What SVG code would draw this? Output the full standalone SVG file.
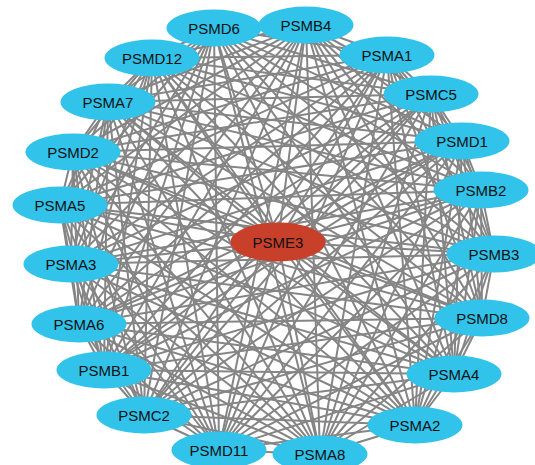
<svg xmlns="http://www.w3.org/2000/svg" width="535" height="465" viewBox="0 0 535 465">
<style>
.e line{stroke:#858585;stroke-width:2;}
.n ellipse{fill:#31C3EA;}
.c ellipse{fill:#C8402A;}
text{font-family:"Liberation Sans",Arial,sans-serif;font-size:15px;fill:#111;text-anchor:middle;dominant-baseline:central;}
</style>
<rect width="535" height="465" fill="#fff"/>
<g id="edges" class="e">
<line x1="214" y1="28" x2="306" y2="25"/><line x1="214" y1="28" x2="387" y2="55"/><line x1="214" y1="28" x2="431" y2="94"/><line x1="214" y1="28" x2="462" y2="141"/><line x1="214" y1="28" x2="481" y2="190"/><line x1="214" y1="28" x2="494" y2="254"/><line x1="214" y1="28" x2="482" y2="318"/><line x1="214" y1="28" x2="454" y2="374"/><line x1="214" y1="28" x2="415" y2="425"/><line x1="214" y1="28" x2="320" y2="454"/><line x1="214" y1="28" x2="219" y2="450"/><line x1="214" y1="28" x2="144" y2="415"/><line x1="214" y1="28" x2="104" y2="370"/><line x1="214" y1="28" x2="79" y2="324"/><line x1="214" y1="28" x2="71" y2="264"/><line x1="214" y1="28" x2="60" y2="205"/><line x1="214" y1="28" x2="73" y2="152"/><line x1="214" y1="28" x2="108" y2="102"/><line x1="214" y1="28" x2="152" y2="58"/><line x1="214" y1="28" x2="278" y2="242"/>
<line x1="306" y1="25" x2="387" y2="55"/><line x1="306" y1="25" x2="431" y2="94"/><line x1="306" y1="25" x2="462" y2="141"/><line x1="306" y1="25" x2="481" y2="190"/><line x1="306" y1="25" x2="494" y2="254"/><line x1="306" y1="25" x2="482" y2="318"/><line x1="306" y1="25" x2="454" y2="374"/><line x1="306" y1="25" x2="415" y2="425"/><line x1="306" y1="25" x2="320" y2="454"/><line x1="306" y1="25" x2="219" y2="450"/><line x1="306" y1="25" x2="144" y2="415"/><line x1="306" y1="25" x2="104" y2="370"/><line x1="306" y1="25" x2="79" y2="324"/><line x1="306" y1="25" x2="71" y2="264"/><line x1="306" y1="25" x2="60" y2="205"/><line x1="306" y1="25" x2="73" y2="152"/><line x1="306" y1="25" x2="108" y2="102"/><line x1="306" y1="25" x2="152" y2="58"/><line x1="306" y1="25" x2="278" y2="242"/>
<line x1="387" y1="55" x2="431" y2="94"/><line x1="387" y1="55" x2="462" y2="141"/><line x1="387" y1="55" x2="481" y2="190"/><line x1="387" y1="55" x2="494" y2="254"/><line x1="387" y1="55" x2="482" y2="318"/><line x1="387" y1="55" x2="454" y2="374"/><line x1="387" y1="55" x2="415" y2="425"/><line x1="387" y1="55" x2="320" y2="454"/><line x1="387" y1="55" x2="219" y2="450"/><line x1="387" y1="55" x2="144" y2="415"/><line x1="387" y1="55" x2="104" y2="370"/><line x1="387" y1="55" x2="79" y2="324"/><line x1="387" y1="55" x2="71" y2="264"/><line x1="387" y1="55" x2="60" y2="205"/><line x1="387" y1="55" x2="73" y2="152"/><line x1="387" y1="55" x2="108" y2="102"/><line x1="387" y1="55" x2="152" y2="58"/><line x1="387" y1="55" x2="278" y2="242"/>
<line x1="431" y1="94" x2="462" y2="141"/><line x1="431" y1="94" x2="481" y2="190"/><line x1="431" y1="94" x2="494" y2="254"/><line x1="431" y1="94" x2="482" y2="318"/><line x1="431" y1="94" x2="454" y2="374"/><line x1="431" y1="94" x2="415" y2="425"/><line x1="431" y1="94" x2="320" y2="454"/><line x1="431" y1="94" x2="219" y2="450"/><line x1="431" y1="94" x2="144" y2="415"/><line x1="431" y1="94" x2="104" y2="370"/><line x1="431" y1="94" x2="79" y2="324"/><line x1="431" y1="94" x2="71" y2="264"/><line x1="431" y1="94" x2="60" y2="205"/><line x1="431" y1="94" x2="73" y2="152"/><line x1="431" y1="94" x2="108" y2="102"/><line x1="431" y1="94" x2="152" y2="58"/><line x1="431" y1="94" x2="278" y2="242"/>
<line x1="462" y1="141" x2="481" y2="190"/><line x1="462" y1="141" x2="494" y2="254"/><line x1="462" y1="141" x2="482" y2="318"/><line x1="462" y1="141" x2="454" y2="374"/><line x1="462" y1="141" x2="415" y2="425"/><line x1="462" y1="141" x2="320" y2="454"/><line x1="462" y1="141" x2="219" y2="450"/><line x1="462" y1="141" x2="144" y2="415"/><line x1="462" y1="141" x2="104" y2="370"/><line x1="462" y1="141" x2="79" y2="324"/><line x1="462" y1="141" x2="71" y2="264"/><line x1="462" y1="141" x2="60" y2="205"/><line x1="462" y1="141" x2="73" y2="152"/><line x1="462" y1="141" x2="108" y2="102"/><line x1="462" y1="141" x2="152" y2="58"/><line x1="462" y1="141" x2="278" y2="242"/>
<line x1="481" y1="190" x2="494" y2="254"/><line x1="481" y1="190" x2="482" y2="318"/><line x1="481" y1="190" x2="454" y2="374"/><line x1="481" y1="190" x2="415" y2="425"/><line x1="481" y1="190" x2="320" y2="454"/><line x1="481" y1="190" x2="219" y2="450"/><line x1="481" y1="190" x2="144" y2="415"/><line x1="481" y1="190" x2="104" y2="370"/><line x1="481" y1="190" x2="79" y2="324"/><line x1="481" y1="190" x2="71" y2="264"/><line x1="481" y1="190" x2="60" y2="205"/><line x1="481" y1="190" x2="73" y2="152"/><line x1="481" y1="190" x2="108" y2="102"/><line x1="481" y1="190" x2="152" y2="58"/><line x1="481" y1="190" x2="278" y2="242"/>
<line x1="494" y1="254" x2="482" y2="318"/><line x1="494" y1="254" x2="454" y2="374"/><line x1="494" y1="254" x2="415" y2="425"/><line x1="494" y1="254" x2="320" y2="454"/><line x1="494" y1="254" x2="219" y2="450"/><line x1="494" y1="254" x2="144" y2="415"/><line x1="494" y1="254" x2="104" y2="370"/><line x1="494" y1="254" x2="79" y2="324"/><line x1="494" y1="254" x2="71" y2="264"/><line x1="494" y1="254" x2="60" y2="205"/><line x1="494" y1="254" x2="73" y2="152"/><line x1="494" y1="254" x2="108" y2="102"/><line x1="494" y1="254" x2="152" y2="58"/><line x1="494" y1="254" x2="278" y2="242"/>
<line x1="482" y1="318" x2="454" y2="374"/><line x1="482" y1="318" x2="415" y2="425"/><line x1="482" y1="318" x2="320" y2="454"/><line x1="482" y1="318" x2="219" y2="450"/><line x1="482" y1="318" x2="144" y2="415"/><line x1="482" y1="318" x2="104" y2="370"/><line x1="482" y1="318" x2="79" y2="324"/><line x1="482" y1="318" x2="71" y2="264"/><line x1="482" y1="318" x2="60" y2="205"/><line x1="482" y1="318" x2="73" y2="152"/><line x1="482" y1="318" x2="108" y2="102"/><line x1="482" y1="318" x2="152" y2="58"/><line x1="482" y1="318" x2="278" y2="242"/>
<line x1="454" y1="374" x2="415" y2="425"/><line x1="454" y1="374" x2="320" y2="454"/><line x1="454" y1="374" x2="219" y2="450"/><line x1="454" y1="374" x2="144" y2="415"/><line x1="454" y1="374" x2="104" y2="370"/><line x1="454" y1="374" x2="79" y2="324"/><line x1="454" y1="374" x2="71" y2="264"/><line x1="454" y1="374" x2="60" y2="205"/><line x1="454" y1="374" x2="73" y2="152"/><line x1="454" y1="374" x2="108" y2="102"/><line x1="454" y1="374" x2="152" y2="58"/><line x1="454" y1="374" x2="278" y2="242"/>
<line x1="415" y1="425" x2="320" y2="454"/><line x1="415" y1="425" x2="219" y2="450"/><line x1="415" y1="425" x2="144" y2="415"/><line x1="415" y1="425" x2="104" y2="370"/><line x1="415" y1="425" x2="79" y2="324"/><line x1="415" y1="425" x2="71" y2="264"/><line x1="415" y1="425" x2="60" y2="205"/><line x1="415" y1="425" x2="73" y2="152"/><line x1="415" y1="425" x2="108" y2="102"/><line x1="415" y1="425" x2="152" y2="58"/><line x1="415" y1="425" x2="278" y2="242"/>
<line x1="320" y1="454" x2="219" y2="450"/><line x1="320" y1="454" x2="144" y2="415"/><line x1="320" y1="454" x2="104" y2="370"/><line x1="320" y1="454" x2="79" y2="324"/><line x1="320" y1="454" x2="71" y2="264"/><line x1="320" y1="454" x2="60" y2="205"/><line x1="320" y1="454" x2="73" y2="152"/><line x1="320" y1="454" x2="108" y2="102"/><line x1="320" y1="454" x2="152" y2="58"/><line x1="320" y1="454" x2="278" y2="242"/>
<line x1="219" y1="450" x2="144" y2="415"/><line x1="219" y1="450" x2="104" y2="370"/><line x1="219" y1="450" x2="79" y2="324"/><line x1="219" y1="450" x2="71" y2="264"/><line x1="219" y1="450" x2="60" y2="205"/><line x1="219" y1="450" x2="73" y2="152"/><line x1="219" y1="450" x2="108" y2="102"/><line x1="219" y1="450" x2="152" y2="58"/><line x1="219" y1="450" x2="278" y2="242"/>
<line x1="144" y1="415" x2="104" y2="370"/><line x1="144" y1="415" x2="79" y2="324"/><line x1="144" y1="415" x2="71" y2="264"/><line x1="144" y1="415" x2="60" y2="205"/><line x1="144" y1="415" x2="73" y2="152"/><line x1="144" y1="415" x2="108" y2="102"/><line x1="144" y1="415" x2="152" y2="58"/><line x1="144" y1="415" x2="278" y2="242"/>
<line x1="104" y1="370" x2="79" y2="324"/><line x1="104" y1="370" x2="71" y2="264"/><line x1="104" y1="370" x2="60" y2="205"/><line x1="104" y1="370" x2="73" y2="152"/><line x1="104" y1="370" x2="108" y2="102"/><line x1="104" y1="370" x2="152" y2="58"/><line x1="104" y1="370" x2="278" y2="242"/>
<line x1="79" y1="324" x2="71" y2="264"/><line x1="79" y1="324" x2="60" y2="205"/><line x1="79" y1="324" x2="73" y2="152"/><line x1="79" y1="324" x2="108" y2="102"/><line x1="79" y1="324" x2="152" y2="58"/><line x1="79" y1="324" x2="278" y2="242"/>
<line x1="71" y1="264" x2="60" y2="205"/><line x1="71" y1="264" x2="73" y2="152"/><line x1="71" y1="264" x2="108" y2="102"/><line x1="71" y1="264" x2="152" y2="58"/><line x1="71" y1="264" x2="278" y2="242"/>
<line x1="60" y1="205" x2="73" y2="152"/><line x1="60" y1="205" x2="108" y2="102"/><line x1="60" y1="205" x2="152" y2="58"/><line x1="60" y1="205" x2="278" y2="242"/>
<line x1="73" y1="152" x2="108" y2="102"/><line x1="73" y1="152" x2="152" y2="58"/><line x1="73" y1="152" x2="278" y2="242"/>
<line x1="108" y1="102" x2="152" y2="58"/><line x1="108" y1="102" x2="278" y2="242"/>
<line x1="152" y1="58" x2="278" y2="242"/>
</g>
<g id="PSMD6" class="n"><ellipse cx="214" cy="28" rx="47.5" ry="18.5"/><text x="214" y="28">PSMD6</text></g>
<g id="PSMB4" class="n"><ellipse cx="306" cy="25" rx="47.5" ry="18.5"/><text x="306" y="25">PSMB4</text></g>
<g id="PSMA1" class="n"><ellipse cx="387" cy="55" rx="47.5" ry="18.5"/><text x="387" y="55">PSMA1</text></g>
<g id="PSMC5" class="n"><ellipse cx="431" cy="94" rx="47.5" ry="18.5"/><text x="431" y="94">PSMC5</text></g>
<g id="PSMD1" class="n"><ellipse cx="462" cy="141" rx="47.5" ry="18.5"/><text x="462" y="141">PSMD1</text></g>
<g id="PSMB2" class="n"><ellipse cx="481" cy="190" rx="47.5" ry="18.5"/><text x="481" y="190">PSMB2</text></g>
<g id="PSMB3" class="n"><ellipse cx="494" cy="254" rx="47.5" ry="18.5"/><text x="494" y="254">PSMB3</text></g>
<g id="PSMD8" class="n"><ellipse cx="482" cy="318" rx="47.5" ry="18.5"/><text x="482" y="318">PSMD8</text></g>
<g id="PSMA4" class="n"><ellipse cx="454" cy="374" rx="47.5" ry="18.5"/><text x="454" y="374">PSMA4</text></g>
<g id="PSMA2" class="n"><ellipse cx="415" cy="425" rx="47.5" ry="18.5"/><text x="415" y="425">PSMA2</text></g>
<g id="PSMA8" class="n"><ellipse cx="320" cy="454" rx="47.5" ry="18.5"/><text x="320" y="454">PSMA8</text></g>
<g id="PSMD11" class="n"><ellipse cx="219" cy="450" rx="47.5" ry="18.5"/><text x="219" y="450">PSMD11</text></g>
<g id="PSMC2" class="n"><ellipse cx="144" cy="415" rx="47.5" ry="18.5"/><text x="144" y="415">PSMC2</text></g>
<g id="PSMB1" class="n"><ellipse cx="104" cy="370" rx="47.5" ry="18.5"/><text x="104" y="370">PSMB1</text></g>
<g id="PSMA6" class="n"><ellipse cx="79" cy="324" rx="47.5" ry="18.5"/><text x="79" y="324">PSMA6</text></g>
<g id="PSMA3" class="n"><ellipse cx="71" cy="264" rx="47.5" ry="18.5"/><text x="71" y="264">PSMA3</text></g>
<g id="PSMA5" class="n"><ellipse cx="60" cy="205" rx="47.5" ry="18.5"/><text x="60" y="205">PSMA5</text></g>
<g id="PSMD2" class="n"><ellipse cx="73" cy="152" rx="47.5" ry="18.5"/><text x="73" y="152">PSMD2</text></g>
<g id="PSMA7" class="n"><ellipse cx="108" cy="102" rx="47.5" ry="18.5"/><text x="108" y="102">PSMA7</text></g>
<g id="PSMD12" class="n"><ellipse cx="152" cy="58" rx="47.5" ry="18.5"/><text x="152" y="58">PSMD12</text></g>
<g id="PSME3" class="c"><ellipse cx="278" cy="242" rx="47.5" ry="19.5"/><text x="278" y="242">PSME3</text></g>
</svg>
